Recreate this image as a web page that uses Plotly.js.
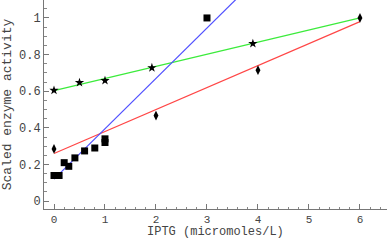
<!DOCTYPE html>
<html><head><meta charset="utf-8">
<script src="https://cdn.plot.ly/plotly-3.0.1.min.js"></script>
<style>html,body{margin:0;padding:0;background:#fff}#chart{width:388px;height:240px}</style>
</head><body><div id="chart"></div>
<script>
// Squares (blue fit)
const squareX = [0, 0.1, 0.2, 0.29, 0.41, 0.6, 0.8, 1.0, 1.0, 3.0];
const squareY = [0.14, 0.14, 0.21, 0.19, 0.236, 0.274, 0.29, 0.32, 0.34, 1.0];
// Stars (green fit)
const starX = [0, 0.5, 1, 1.92, 3.9];
const starY = [0.605, 0.647, 0.658, 0.728, 0.86];
// Diamonds (red fit)
const diamondX = [0, 2, 4, 6];
const diamondY = [0.285, 0.467, 0.715, 1.0];
// Fit lines
const greenFitX = [0, 6], greenFitY = [0.603, 1.0];
const redFitX = [0, 6], redFitY = [0.26, 0.98];
const blueFitX = [0, 4], blueFitY = [0.12, 1.22];
const xTitle = 'IPTG (micromoles/L)';
const yTitle = 'Scaled enzyme activity';

const mono = "Liberation Mono, Courier New, monospace";
const traces = [
  {x: greenFitX, y: greenFitY, mode: 'lines', line: {color: 'rgb(60,235,60)', width: 1.2}},
  {x: redFitX, y: redFitY, mode: 'lines', line: {color: 'rgb(255,70,70)', width: 1.2}},
  {x: blueFitX, y: blueFitY, mode: 'lines', line: {color: 'rgb(80,80,255)', width: 1.2}},
  {x: squareX, y: squareY, mode: 'markers', marker: {symbol: 'square', size: 7, color: '#000'}},
  {x: starX, y: starY, mode: 'markers', marker: {symbol: 'star', size: 7, color: '#000'}},
  {x: diamondX, y: diamondY, mode: 'markers', marker: {symbol: 'diamond-tall', size: 7, color: '#000'}}
];
const layout = {
  width: 388, height: 240,
  margin: {l: 44, r: 1, t: 0, b: 31},
  paper_bgcolor: '#fff', plot_bgcolor: '#fff',
  showlegend: false,
  font: {family: mono, size: 12, color: '#444'},
  xaxis: {
    range: [-0.196, 6.53], showgrid: false, zeroline: false,
    showline: true, linecolor: '#777', linewidth: 1,
    ticks: 'inside', ticklen: 5, tickcolor: '#777', dtick: 1, tick0: 0,
    tickfont: {family: mono, size: 11, color: '#444'},
    minor: {ticks: 'inside', ticklen: 2.5, dtick: 0.2, tickcolor: '#888', showgrid: false}
  },
  yaxis: {
    range: [-0.043, 1.098], showgrid: false, zeroline: false,
    showline: true, linecolor: '#777', linewidth: 1,
    ticks: 'inside', ticklen: 5, tickcolor: '#777', dtick: 0.2, tick0: 0,
    minor: {ticks: 'inside', ticklen: 2.5, dtick: 0.05, tickcolor: '#888', showgrid: false},
    title: {text: yTitle, font: {family: mono, size: 13, color: '#444'}, standoff: 4}
  },
  annotations: [{
    text: xTitle, xref: 'paper', yref: 'paper', x: 0.5, y: -31/209,
    xanchor: 'center', yanchor: 'bottom', showarrow: false, borderpad: 0,
    font: {family: mono, size: 12, color: '#444'}
  }]
};
Plotly.newPlot('chart', traces, layout, {staticPlot: true});
</script></body></html>
